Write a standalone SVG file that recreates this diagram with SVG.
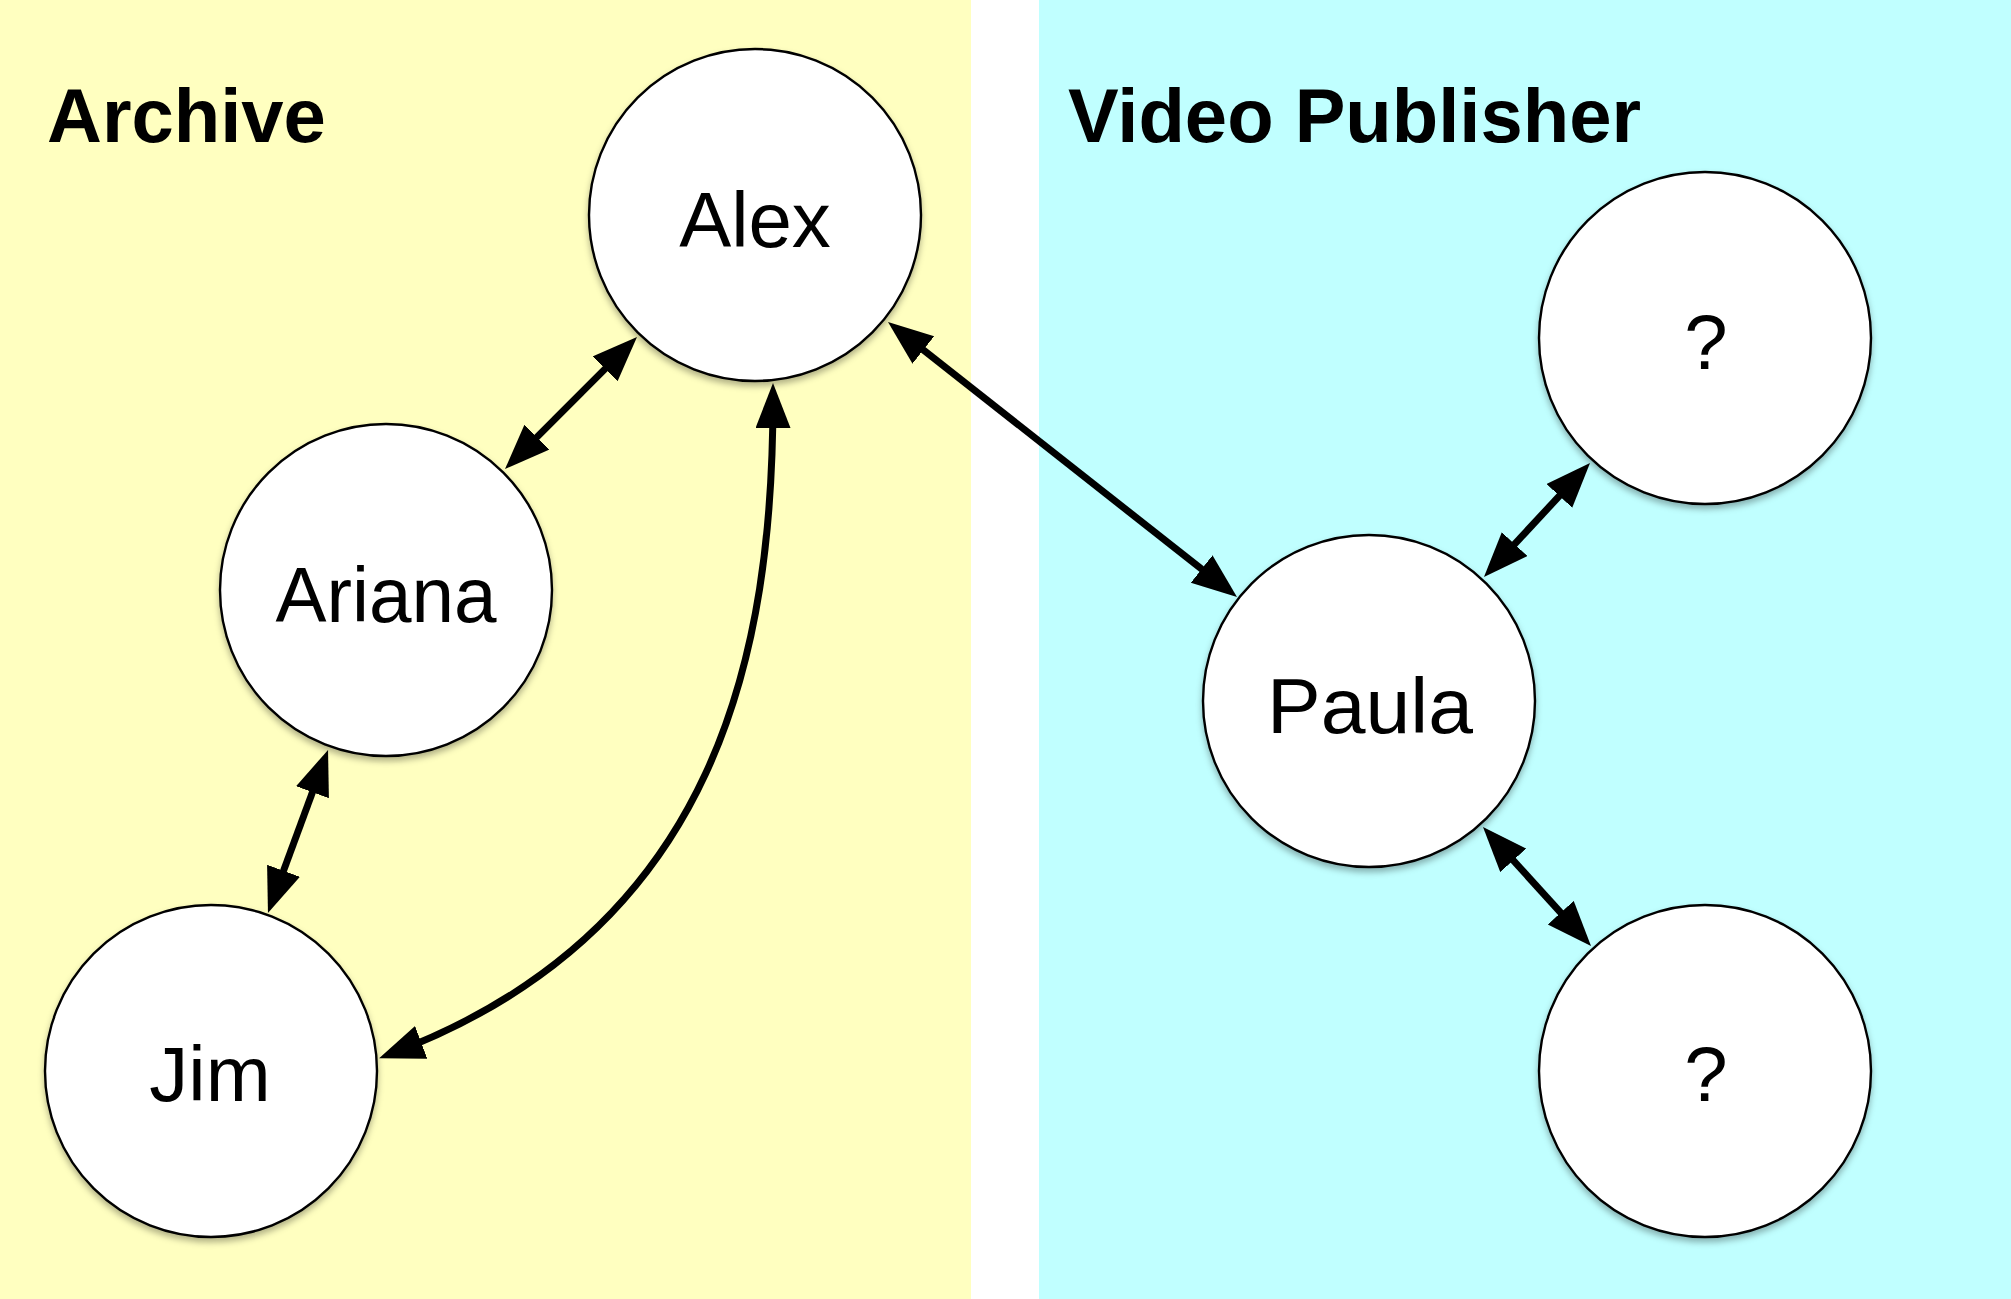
<svg xmlns="http://www.w3.org/2000/svg" width="2011" height="1299" viewBox="0 0 2011 1299">
  <style>
    .title { font-family: "Liberation Sans", Arial, Helvetica, sans-serif; font-weight: bold; font-size: 76px; fill: #000; }
    .label { font-family: "Liberation Sans", Arial, Helvetica, sans-serif; font-size: 78px; fill: #000; text-anchor: middle; }
    .node { fill: #fff; stroke: #000; stroke-width: 2.4; filter: url(#shadow); }
    .edge { fill: none; stroke: #000; stroke-width: 7; marker-start: url(#arrow); marker-end: url(#arrow); }
  </style>
  <defs>
    <filter id="shadow" x="-20%" y="-20%" width="140%" height="150%">
      <feDropShadow dx="0" dy="4" stdDeviation="3" flood-color="#000" flood-opacity="0.3"/>
    </filter>
    <marker id="arrow" markerUnits="userSpaceOnUse" markerWidth="46" markerHeight="36" viewBox="0 0 46 36" refX="31" refY="17.5" orient="auto-start-reverse">
      <path d="M0,0 L45,17.5 L0,35 z" fill="#000"/>
    </marker>
  </defs>

  <g id="regions">
    <rect x="0" y="0" width="971" height="1299" fill="#FFFFC0"/>
    <rect x="1039" y="0" width="972" height="1299" fill="#C0FFFF"/>
    <text class="title" x="47" y="142">Archive</text>
    <text class="title" x="1068" y="142">Video Publisher</text>
  </g>

  <g id="connectors">
    <path class="edge" d="M514.9,459.1 L627.1,346.9"/>
    <path class="edge" d="M899,330.7 L1226,588.3"/>
    <path class="edge" d="M272.8,899.9 L323.2,763.1"/>
    <path class="edge" d="M1493.5,566.8 L1580.5,473.2"/>
    <path class="edge" d="M1492.4,837.4 L1581.6,935.6"/>
    <path class="edge" d="M773,397 C773,650 720,930 392.2,1053.4"/>
  </g>

  <g id="node-alex">
    <circle class="node" cx="755" cy="215" r="166"/>
    <text class="label" x="755" y="247">Alex</text>
  </g>
  <g id="node-ariana">
    <circle class="node" cx="386" cy="590" r="166"/>
    <text class="label" x="386" y="622" textLength="221" lengthAdjust="spacingAndGlyphs">Ariana</text>
  </g>
  <g id="node-jim">
    <circle class="node" cx="211" cy="1071" r="166"/>
    <text class="label" x="210" y="1101">Jim</text>
  </g>
  <g id="node-paula">
    <circle class="node" cx="1369" cy="701" r="166"/>
    <text class="label" x="1370" y="733" textLength="206" lengthAdjust="spacingAndGlyphs">Paula</text>
  </g>
  <g id="node-unknown-top">
    <circle class="node" cx="1705" cy="338" r="166"/>
    <text class="label" x="1706" y="369">?</text>
  </g>
  <g id="node-unknown-bottom">
    <circle class="node" cx="1705" cy="1071" r="166"/>
    <text class="label" x="1706" y="1101">?</text>
  </g>
</svg>
